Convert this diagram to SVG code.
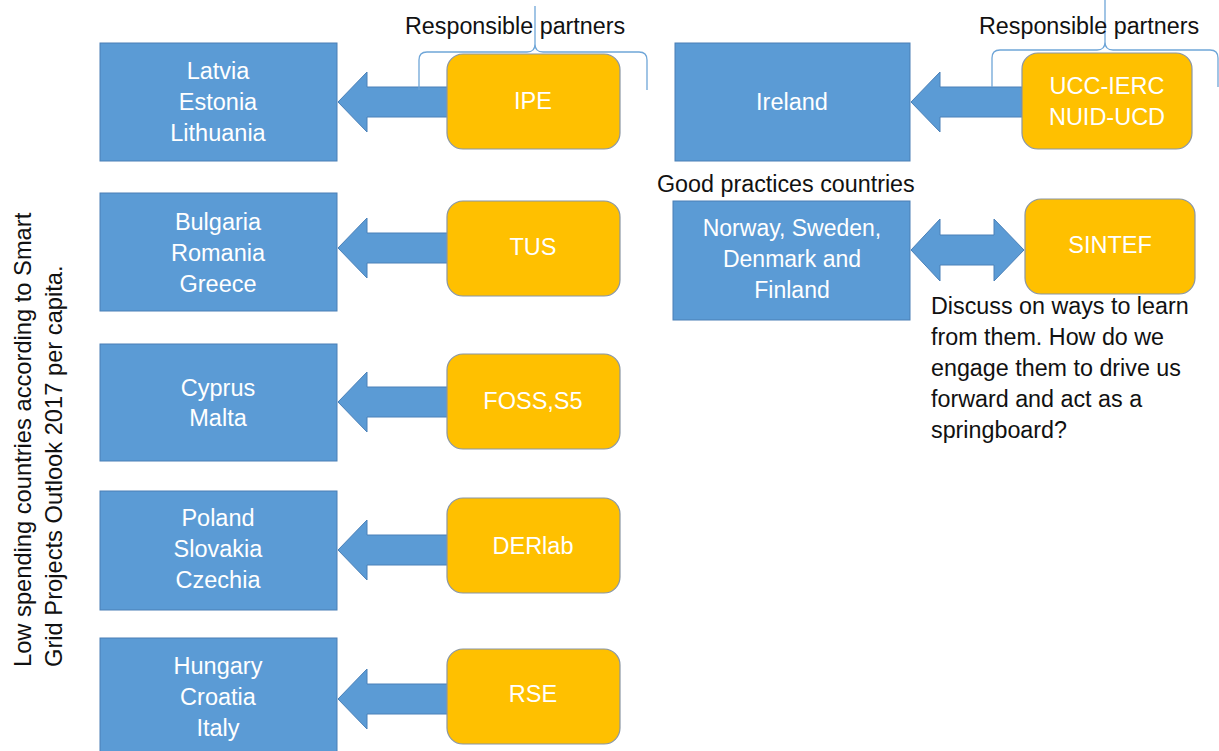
<svg xmlns="http://www.w3.org/2000/svg" width="1219" height="751" viewBox="0 0 1219 751">
<style>
.bb{fill:#5B9BD5;stroke:#4A7FB5;stroke-width:1}
.ob{fill:#FFC000;stroke:#8A96A3;stroke-width:1.2}
.ar{fill:#5B9BD5;stroke:#4A80B8;stroke-width:1}
.br{fill:none;stroke:#6FA6D8;stroke-width:1.3}
.wt{font-family:"Liberation Sans",Arial,sans-serif;font-size:23.5px;fill:#FFFFFF;text-anchor:middle}
.bt{font-family:"Liberation Sans",Arial,sans-serif;font-size:23.3px;fill:#111111}
</style>
<rect width="1219" height="751" fill="#FFFFFF"/>
<g id="connectors">
<polygon class="ar" points="338,102 367,72 367,87 448,87 448,117 367,117 367,132"/>
<polygon class="ar" points="338,248 367,218 367,233 448,233 448,263 367,263 367,278"/>
<polygon class="ar" points="338,402 367,372 367,387 448,387 448,417 367,417 367,432"/>
<polygon class="ar" points="338,550 367,520 367,535 448,535 448,565 367,565 367,580"/>
<polygon class="ar" points="338,699 367,669 367,684 448,684 448,714 367,714 367,729"/>
<polygon class="ar" points="911,102 940,72 940,87 1022,87 1022,117 940,117 940,132"/>
<polygon class="ar" points="911,250 940,219 940,235 994,235 994,219 1024,250 994,281 994,265 940,265 940,281"/>
</g>
<g id="braces">
<path class="br" d="M419,90 L419,60 Q419,52 427,52 L527,52 Q535,52 535,44 L535,6 M535,44 Q535,52 543,52 L639,52 Q647,52 647,60 L647,90"/>
<path class="br" d="M992,87 L992,58 Q992,50 1000,50 L1097,50 Q1105,50 1105,42 L1105,0 M1105,42 Q1105,50 1113,50 L1210,50 Q1218,50 1218,58 L1218,87"/>
</g>
<g id="n-latvia"><rect class="bb" x="100" y="43" width="237" height="118"/><text class="wt" x="218" y="79">Latvia</text><text class="wt" x="218" y="110">Estonia</text><text class="wt" x="218" y="141">Lithuania</text></g>
<g id="n-bulgaria"><rect class="bb" x="100" y="193" width="237" height="118"/><text class="wt" x="218" y="230">Bulgaria</text><text class="wt" x="218" y="261">Romania</text><text class="wt" x="218" y="292">Greece</text></g>
<g id="n-cyprus"><rect class="bb" x="100" y="344" width="237" height="117"/><text class="wt" x="218" y="396">Cyprus</text><text class="wt" x="218" y="426">Malta</text></g>
<g id="n-poland"><rect class="bb" x="100" y="491" width="237" height="119"/><text class="wt" x="218" y="526">Poland</text><text class="wt" x="218" y="557">Slovakia</text><text class="wt" x="218" y="588">Czechia</text></g>
<g id="n-hungary"><rect class="bb" x="100" y="638" width="237" height="120"/><text class="wt" x="218" y="674">Hungary</text><text class="wt" x="218" y="705">Croatia</text><text class="wt" x="218" y="736">Italy</text></g>
<g id="n-ipe"><rect class="ob" x="447" y="54" width="173" height="95" rx="16"/><text class="wt" x="533" y="109">IPE</text></g>
<g id="n-tus"><rect class="ob" x="447" y="201" width="173" height="95" rx="16"/><text class="wt" x="533" y="255">TUS</text></g>
<g id="n-foss"><rect class="ob" x="447" y="354" width="173" height="95" rx="16"/><text class="wt" x="533" y="409">FOSS,S5</text></g>
<g id="n-derlab"><rect class="ob" x="447" y="498" width="173" height="95" rx="16"/><text class="wt" x="533" y="554">DERlab</text></g>
<g id="n-rse"><rect class="ob" x="447" y="649" width="173" height="95" rx="16"/><text class="wt" x="533" y="702">RSE</text></g>
<g id="n-ireland"><rect class="bb" x="675" y="43" width="235" height="118"/><text class="wt" x="792" y="110">Ireland</text></g>
<g id="n-ucc"><rect class="ob" x="1022" y="53" width="170" height="96" rx="16"/><text class="wt" x="1107" y="94">UCC-IERC</text><text class="wt" x="1107" y="125">NUID-UCD</text></g>
<g id="n-nordic"><rect class="bb" x="673" y="201" width="237" height="119"/><text class="wt" x="792" y="236" style="font-size:23px">Norway, Sweden,</text><text class="wt" x="792" y="267" style="font-size:23px">Denmark and</text><text class="wt" x="792" y="298" style="font-size:23px">Finland</text></g>
<g id="n-sintef"><rect class="ob" x="1025" y="199" width="170" height="95" rx="16"/><text class="wt" x="1110" y="253">SINTEF</text></g>
<g id="labels">
<text class="bt" x="405" y="34">Responsible partners</text>
<text class="bt" x="979" y="34">Responsible partners</text>
<text class="bt" x="657" y="192">Good practices countries</text>
<text class="bt" x="931" y="314">Discuss on ways to learn</text>
<text class="bt" x="931" y="345">from them. How do we</text>
<text class="bt" x="931" y="376">engage them to drive us</text>
<text class="bt" x="931" y="407">forward and act as a</text>
<text class="bt" x="931" y="438">springboard?</text>
<text class="bt" style="font-size:23.7px" transform="translate(31,667) rotate(-90)">Low spending countries according to Smart</text>
<text class="bt" style="font-size:23.7px" transform="translate(62,667) rotate(-90)">Grid Projects Outlook 2017 per capita.</text>
</g>
</svg>
